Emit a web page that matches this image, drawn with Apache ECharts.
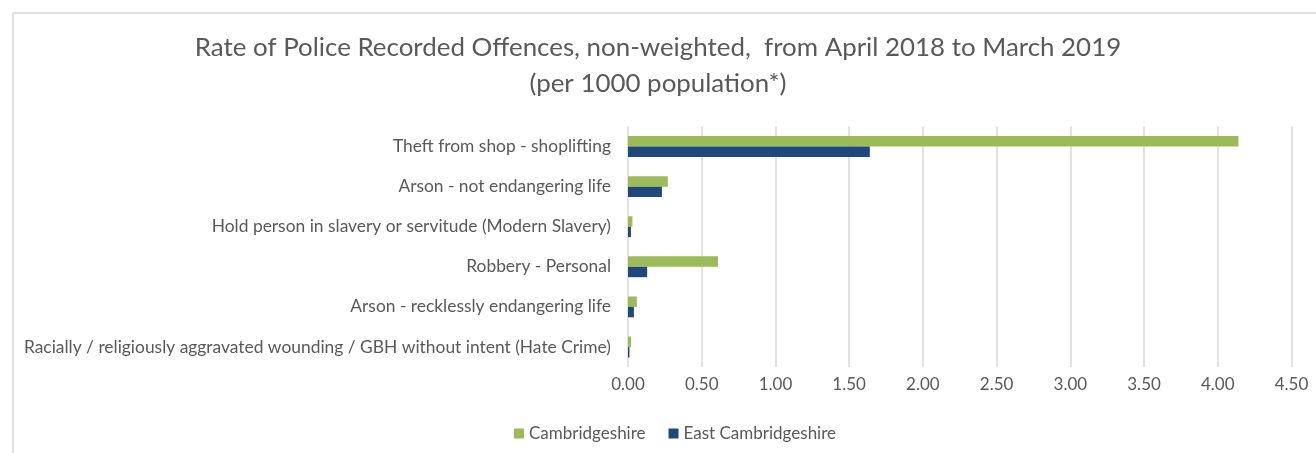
<!DOCTYPE html>
<html>
<head>
<meta charset="utf-8">
<script src="https://cdn.jsdelivr.net/npm/echarts@6/dist/echarts.min.js"></script>
<style>
  html, body { margin: 0; padding: 0; background: #fff; }
  #chart { width: 1316px; height: 453px; }
</style>
</head>
<body>
<div id="chart"></div>
<script>
// 分类（从上到下）
var categories = [
    'Theft from shop - shoplifting',
    'Arson - not endangering life',
    'Hold person in slavery or servitude (Modern Slavery)',
    'Robbery - Personal',
    'Arson - recklessly endangering life',
    'Racially / religiously aggravated wounding / GBH without intent (Hate Crime)'
];
// 每千人比率
var cambs = [4.14, 0.27, 0.03, 0.61, 0.06, 0.02];
var eastCambs = [1.64, 0.23, 0.02, 0.13, 0.04, 0.01];

var textColor = '#595959';
var font = 'Lato';

var chart = echarts.init(document.getElementById('chart'));
chart.setOption({
    animation: false,
    textStyle: { fontFamily: font },
    title: {
        text: 'Rate of Police Recorded Offences, non-weighted,  from April 2018 to March 2019\n(per 1000 population*)',
        left: 'center',
        top: 25,
        textStyle: {
            fontFamily: font,
            fontSize: 25.9,
            fontWeight: 'normal',
            color: textColor,
            lineHeight: 36,
            align: 'center'
        }
    },
    //外边框
    graphic: [{
        type: 'rect',
        shape: { x: 13, y: 13, width: 1320, height: 460 },
        style: { fill: 'none', stroke: '#d9d9d9', lineWidth: 1.5 },
        silent: true
    }],
    legend: {
        top: 420,
        left: 509,
        itemWidth: 10,
        itemHeight: 10,
        itemGap: 23,
        icon: 'rect',
        textStyle: { fontFamily: font, fontSize: 17, color: textColor }
    },
    grid: {
        left: 628,
        right: 24.5,
        top: 126.5,
        bottom: 86
    },
    xAxis: {
        type: 'value',
        min: 0,
        max: 4.5,
        interval: 0.5,
        axisLine: { show: false },
        axisTick: { show: false },
        axisLabel: {
            color: textColor,
            fontSize: 17,
            margin: 9,
            formatter: function (v) { return v.toFixed(2); }
        },
        splitLine: { lineStyle: { color: '#d9d9d9', width: 1.5 } }
    },
    yAxis: {
        type: 'category',
        inverse: true,
        data: categories,
        axisLine: { show: false },
        axisTick: { show: false },
        axisLabel: { color: textColor, fontSize: 17.4, margin: 17 }
    },
    series: [{
        name: 'Cambridgeshire',
        type: 'bar',
        data: cambs,
        barGap: '0%',
        barCategoryGap: '48%',
        itemStyle: { color: '#9bbb59' }
    }, {
        name: 'East Cambridgeshire',
        type: 'bar',
        data: eastCambs,
        itemStyle: { color: '#1f497d' }
    }]
});
</script>
</body>
</html>
